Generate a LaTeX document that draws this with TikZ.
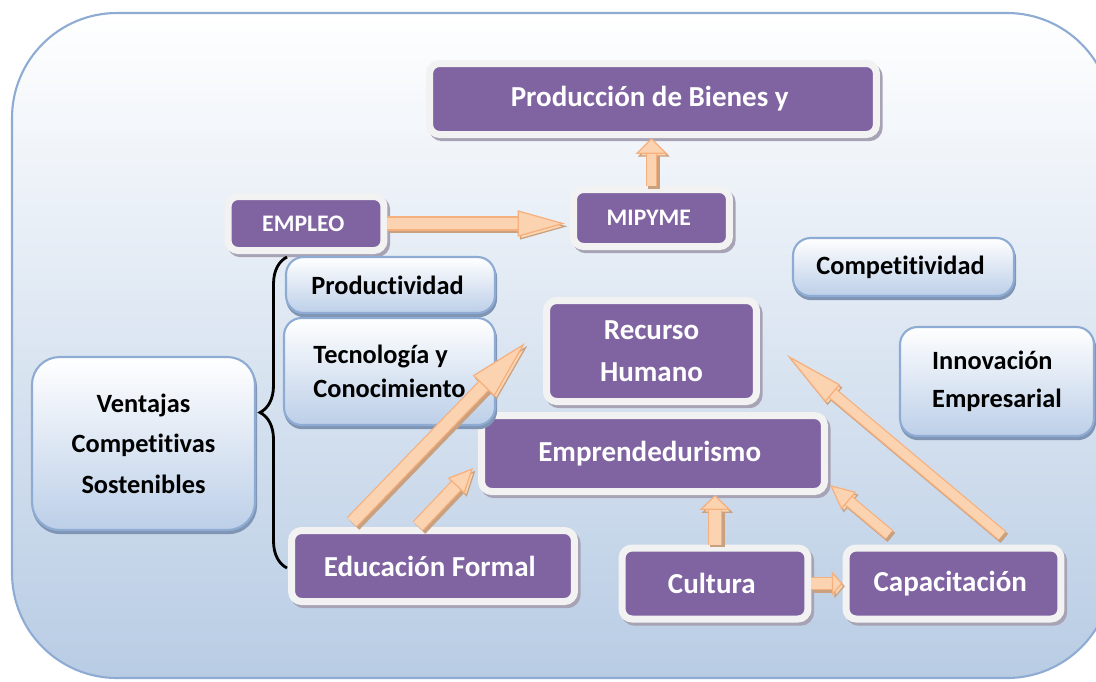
\documentclass[tikz,border=0pt]{standalone}
\usepackage{fontspec}
\setmainfont{Carlito}[RawFeature={-liga;-clig;-calt;-dlig}]
\usetikzlibrary{arrows.meta,shadows,decorations.pathreplacing}
\definecolor{moradoCaja}{HTML}{8064A2}
\definecolor{bordeBlanco}{HTML}{F2F2F2}
\definecolor{sombraGris}{HTML}{A7A3B5}
\definecolor{azulBorde}{HTML}{8EACD3}
\definecolor{azulFondo}{HTML}{B8CCE4}
\definecolor{azulCaja}{HTML}{BCCFE8}
\definecolor{sombraAzul}{HTML}{7F95B3}
\definecolor{flechaRelleno}{HTML}{FBD3B0}
\definecolor{flechaBorde}{HTML}{F6B07E}
\definecolor{flechaSombra}{HTML}{C9A17F}
\tikzset {
        cajamorada/.style={rectangle, rounded corners=0.2cm, fill=moradoCaja, draw=bordeBlanco, line width=0.14cm, text=white, align=center, font=\bfseries\fontsize{16.5}{24}\selectfont, drop shadow={shadow xshift=1.5pt, shadow yshift=-1.8pt, fill=sombraGris, draw=sombraGris, line width=0.14cm, opacity=1}},
        cajaclara/.style={rectangle, rounded corners=0.35cm, top color=white, bottom color=azulCaja, draw=azulBorde, line width=1.2pt, text=black, align=center, font=\bfseries\fontsize{15}{21}\selectfont, drop shadow={shadow xshift=0.6pt, shadow yshift=-1.8pt, fill=sombraAzul, draw=sombraAzul, line width=1.2pt, opacity=1}},
        flecha/.style n args={3}{draw=flechaBorde, double=flechaRelleno, line width=0.7pt, double distance=#1, -{Triangle[length=#2, width=#3, fill=flechaRelleno, line width=0.7pt]}, preaction={transform canvas={shift={(1.3pt,-1.6pt)}}, draw=flechaSombra, double=flechaSombra, double distance=#1}},
        default/.style={}
}
\begin{document}
\begin{tikzpicture}[x=0.02cm, y=-0.02cm]
            \useasboundingbox (0,0) rectangle (1096,681);
            \clip (0,0) rectangle (1096,681);
            % marco de fondo
            \path[draw=azulBorde, line width=1.2pt, top color=white, bottom color=azulFondo, rounded corners=2.1cm] (12,13) rectangle (1112,678);

            \node[cajamorada, minimum width=8.94cm, minimum height=1.42cm] (produccion) at (653,99) {
                Producción de Bienes y
            };
            \node[cajamorada, font=\bfseries\fontsize{13.5}{16}\selectfont, minimum width=3.12cm, minimum height=1.14cm] (mipyme) at (651.5,218) {
                MIPYME
            };
            \node[cajamorada, font=\bfseries\fontsize{13.5}{16}\selectfont, minimum width=3.12cm, minimum height=1.08cm] (empleo) at (306,223.5) {
                EMPLEO
            };
            \node[cajamorada, minimum width=4.2cm, minimum height=2.02cm] (recurso) at (651.5,351) {
                Recurso\\Humano
            };
            \node[cajamorada, minimum width=6.86cm, minimum height=1.52cm] (emprende) at (653,453.5) {
                Emprendedurismo
            };
            \node[cajamorada, minimum width=5.66cm, minimum height=1.42cm] (educacion) at (433,566) {
                Educación Formal
            };
            \node[cajamorada, minimum width=3.72cm, minimum height=1.42cm] (cultura) at (715,583.5) {
                Cultura
            };
            \node[cajamorada, minimum width=4.3cm, minimum height=1.42cm] (capacitacion) at (953.5,583.5) {
                Capacitación
            };

            \node[cajaclara, minimum width=4.18cm, minimum height=1.12cm] (productividad) at (390.5,285) {
                Productividad
            };
            \node[cajaclara, align=left, font=\bfseries\fontsize{15}{19.3}\selectfont, minimum width=4.22cm, minimum height=2.14cm] (tecnologia) at (389.5,371.5) {
                Tecnología y\\Conocimiento
            };
            \node[cajaclara, minimum width=4.42cm, minimum height=1.16cm] (competitividad) at (903.5,267) {
                Competitividad
            };
            \node[cajaclara, align=left, font=\bfseries\fontsize{15}{21.6}\selectfont, minimum width=3.88cm, minimum height=2.18cm] (innovacion) at (997,381.5) {
                Innovación\\Empresarial
            };
            \node[cajaclara, rounded corners=0.55cm, font=\bfseries\fontsize{15}{23}\selectfont, minimum width=4.46cm, minimum height=3.46cm] (ventajas) at (143.5,443.5) {
                Ventajas\\Competitivas\\Sostenibles
            };

            % llave
            \draw[decorate, decoration={brace, amplitude=0.54cm}, line width=1.6pt] (287,568) -- (287,257);

            % flechas
            \draw[flecha={6.6pt}{27pt}{15pt}, shorten >=0.1cm] (empleo.east) -- (empleo.east -| mipyme.west);
            \draw[flecha={5.4pt}{9pt}{18pt}] (mipyme.north) -- (mipyme.north |- produccion.south);
            \draw[flecha={6.6pt}{34pt}{17pt}] ([shift={(-81,-5)}]educacion.north) -- ([shift={(-18,-8)}]recurso.west);
            \draw[flecha={6.6pt}{14pt}{13pt}] ([shift={(-15,-1)}]educacion.north) -- ([shift={(-5,14.5)}]emprende.west);
            \draw[flecha={7.1pt}{8.5pt}{17.6pt}] (cultura.north) -- (cultura.north |- emprende.south);
            \draw[flecha={5.4pt}{14pt}{13pt}] ([shift={(-64.5,-10)}]capacitacion.north) -- ([shift={(2,-10)}]emprende.south east);
            \draw[flecha={5.4pt}{34pt}{13pt}] ([shift={(48.5,-9)}]capacitacion.north) -- ([shift={(27,4)}]recurso.east);
            \draw[flecha={6pt}{6pt}{13.6pt}] (cultura.east) -- (capacitacion.west);
        \end{tikzpicture}
\end{document}
